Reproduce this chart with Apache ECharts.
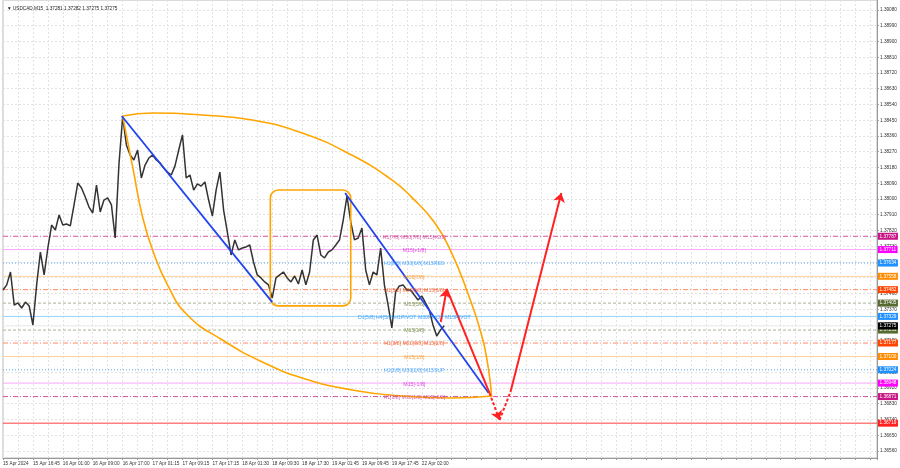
<!DOCTYPE html>
<html><head><meta charset="utf-8">
<script src="https://cdn.jsdelivr.net/npm/echarts@6/dist/echarts.min.js"></script>
<style>html,body{margin:0;padding:0;background:#fff}#c{width:900px;height:468px}</style>
</head><body><div id="c"></div>
<script>
// ---------- data ----------
const headerText = 'USDCAD,M15  1.37281 1.37282 1.37275 1.37275';
const xTickLabels = ['15 Apr 2024','15 Apr 16:45','16 Apr 01:00','16 Apr 09:00','16 Apr 17:00','17 Apr 01:15','17 Apr 09:15','17 Apr 17:15','18 Apr 01:30','18 Apr 09:30','18 Apr 17:30','19 Apr 01:45','19 Apr 09:45','19 Apr 17:45','22 Apr 02:00'];
const yTicks = [1.39080,1.38990,1.38900,1.38810,1.38720,1.38630,1.38540,1.38450,1.38360,1.38270,1.38180,1.38090,1.38000,1.37910,1.37820,1.37730,1.37640,1.37550,1.37460,1.37370,1.37280,1.37190,1.37100,1.37010,1.36920,1.36830,1.36740,1.36650,1.36560];
// close price sampled every 4th M15 bar
const barStep = 4;
const closePrices = [
1.37480,1.37509,1.37583,1.37394,1.37406,1.37377,1.37411,1.37389,1.37280,1.37509,
1.37697,1.37566,1.37720,1.37851,1.37823,1.37909,1.37851,1.37857,1.37846,1.37966,
1.38091,1.38063,1.38011,1.37954,1.37920,1.38080,1.37926,1.37994,1.38006,1.37966,
1.37777,1.38194,1.38470,1.38309,1.38251,1.38223,1.38280,1.38120,1.38194,1.38234,
1.38251,1.38223,1.38206,1.38177,1.38154,1.38137,1.38189,1.38280,1.38366,1.38120,
1.38137,1.38051,1.38086,1.38074,1.38097,1.37994,1.37903,1.38051,1.38154,1.37937,
1.37811,1.37680,1.37766,1.37709,1.37720,1.37726,1.37737,1.37640,1.37566,1.37549,
1.37526,1.37509,1.37434,1.37549,1.37566,1.37583,1.37549,1.37526,1.37560,1.37514,
1.37594,1.37509,1.37583,1.37766,1.37794,1.37680,1.37663,1.37697,1.37709,1.37737,
1.37766,1.37880,1.38017,1.37869,1.37766,1.37777,1.37834,1.37594,1.37509,1.37583,
1.37566,1.37720,1.37509,1.37394,1.37263,1.37469,1.37503,1.37509,1.37480,1.37480,
1.37451,1.37423,1.37446,1.37406,1.37366,1.37280,1.37217,1.37251,1.37275];

const levelPrices = [1.37787,1.37711,1.37634,1.37558,1.37482,1.37405,1.37329,1.37251,1.37177,1.37100,1.37024,1.36948,1.36871];
const levelNames = ['H1[7/8] M30[7/8] M15[+2/8]','M15[+1/8]','H1[6/8] M30[6/8] M15RES','M15[7/8]','H1[5/8] M30[5/8] M15[6/8]','M15[5/8]','D1[5/8] H4[5/8] H1PIVOT M30PIVOT M15PIVOT','M15[3/8]','H1[3/8] M30[3/8] M15[2/8]','M15[1/8]','H1[2/8] M30[2/8] M15SUP','M15[-1/8]','H1[1/8] M30[1/8] M15[-2/8]'];
const currentPrice = 1.37275;
const targetPrice = 1.36719;
const levelLabelBar = 440;
const axisBars = [0, 935];

// drawn objects (bar index, price)
const upperArcBars   = [128,160,213,267,320,373,416,437,462,480,496,512,519.5,522.7];
const upperArcPrices = [1.38474,1.38491,1.38480,1.38451,1.38377,1.38251,1.38109,1.38011,1.37863,1.37691,1.37480,1.37223,1.37023,1.36869];
const lowerArcBars   = [128,138.7,149.3,160,176,197.3,234.7,277.3,320,373.3,426.7,480,522.7];
const lowerArcPrices = [1.38474,1.38183,1.37897,1.37709,1.37509,1.37337,1.37194,1.37069,1.36977,1.36909,1.36874,1.36863,1.36874];
const boxBars = [286,372];
const boxPrices = [1.38051,1.37389];
const trendLines = [ [[127,1.38474],[288,1.37411]], [[366,1.38034],[519.5,1.36891]] ];
const arrowBars   = [468.3,474.7,520.5,531.2,542.9,597.3];
const arrowPrices = [1.37297,1.37486,1.36891,1.36737,1.36897,1.38034];

// ---------- styles ----------
const DD=[5,2,1,2], DOT=[1,2], DSH=[3,2];
const levelStyle = [
 {c:'#D255A0',t:'#D0409A',d:DD,box:'#C71585'},
 {c:'#F5A8F5',t:'#E020E0',d:'solid',box:'#FF00FF'},
 {c:'#5AA8F5',t:'#3A9BFF',d:DOT,box:'#1E90FF'},
 {c:'#FFD39A',t:'#F09020',d:'solid',box:'#FF8C00'},
 {c:'#FF8A66',t:'#F05020',d:DD,box:'#FF4500'},
 {c:'#A8B395',t:'#6B7F3A',d:DSH,box:'#556B2F'},
 {c:'#93D3FA',t:'#1E90FF',d:'solid',box:'#1E90FF'},
 {c:'#A8B395',t:'#6B7F3A',d:DSH,box:'#556B2F'},
 {c:'#FF8A66',t:'#F05020',d:DD,box:'#FF4500'},
 {c:'#FFD39A',t:'#F09020',d:'solid',box:'#FF8C00'},
 {c:'#5AA8F5',t:'#3A9BFF',d:DOT,box:'#1E90FF'},
 {c:'#F5A8F5',t:'#E020E0',d:'solid',box:'#FF00FF'},
 {c:'#D255A0',t:'#D0409A',d:DD,box:'#C71585'},
 {c:'#ededed',d:'solid',box:'#000000'},
 {c:'#FF4040',d:'solid',box:'#FF2020'}
];
const FF = 'Liberation Sans, Arial, sans-serif';
const FS = 4.7;

const priceData = closePrices.map((p,i)=>[i*barStep,p]);
const zip = (a,b)=>a.map((v,i)=>[v,b[i]]);

const allLinePrices = levelPrices.concat([currentPrice, targetPrice]);
const levelSeries = allLinePrices.map((p,i)=>({
  type:'line', silent:true, z:1, symbol:'none', showSymbol:false,
  data:axisBars.map(b=>[b,p]),
  lineStyle:{color:levelStyle[i].c, type:levelStyle[i].d, width:1},
  itemStyle:{color:levelStyle[i].c},
  endLabel:{show:true, distance:1, formatter:()=>p.toFixed(5),
    backgroundColor:levelStyle[i].box, color:'#fff', fontSize:FS, fontFamily:FF, padding:[1,1.5,1,1.5]}
}));

const seg = (i, dashed, arrow)=>{
  const ls = {color:'#FF2222', width:2, type:dashed?[3,2]:'solid'};
  return [
    {coord:[arrowBars[i],arrowPrices[i]], symbol:'none', lineStyle:ls},
    {coord:[arrowBars[i+1],arrowPrices[i+1]], symbol:arrow?'arrow':'none', symbolSize:arrow?9:0, lineStyle:ls}
  ];
};
const redSegs = [seg(0,false,true), seg(1,false,false), seg(2,true,true), seg(3,true,false), seg(4,false,true)];

const chart = echarts.init(document.getElementById('c'), null, {renderer:'canvas'});
chart.setOption({
  animation:false,
  backgroundColor:'#fff',
  title:{text:'▼ '+headerText, left:2, top:1, textStyle:{fontSize:FS, fontWeight:'normal', color:'#222', fontFamily:FF}},
  grid:{left:0, right:23, top:0, bottom:10, show:true, borderColor:'#b8b8b8', borderWidth:1},
  xAxis:{type:'value', min:0, max:935, interval:16,
    axisLine:{show:true, onZero:false, lineStyle:{color:'#999'}},
    axisTick:{show:true, length:2, lineStyle:{color:'#999'}},
    splitLine:{show:true, lineStyle:{color:'#e2e2e2', type:[2,2], width:1}},
    axisLabel:{fontSize:FS, fontFamily:FF, color:'#333', margin:3, align:'left',
      formatter:(v)=> (v%32===0 && xTickLabels[v/32]) ? xTickLabels[v/32] : ''}},
  yAxis:{type:'value', position:'right', min:1.36520, max:1.39137, scale:true,
    axisLine:{show:true, onZero:false, lineStyle:{color:'#999', width:1}},
    axisTick:{show:true, length:2, customValues:yTicks, lineStyle:{color:'#999'}},
    splitLine:{show:true, lineStyle:{color:'#e2e2e2', type:[2,2], width:1}},
    axisLabel:{fontSize:FS, fontFamily:FF, color:'#333', margin:3, customValues:yTicks,
      formatter:(v)=>v.toFixed(5)}},
  series:[
    ...levelSeries,
    {type:'line', data:priceData, showSymbol:false, lineStyle:{color:'#333', width:1.5}, z:3},
    {type:'line', data:zip(upperArcBars,upperArcPrices), smooth:0.5, showSymbol:false, lineStyle:{color:'#FFA500', width:1.6}, z:4},
    {type:'line', data:zip(lowerArcBars,lowerArcPrices), smooth:0.5, showSymbol:false, lineStyle:{color:'#FFA500', width:1.6}, z:4},
    {type:'custom', data:[[boxBars[0],boxPrices[0],boxBars[1],boxPrices[1]]], encode:{x:[0,2], y:[1,3]}, z:4,
      renderItem:(params, api)=>{
        const a = api.coord([api.value(0),api.value(1)]);
        const b = api.coord([api.value(2),api.value(3)]);
        return {type:'rect', shape:{x:Math.min(a[0],b[0]), y:Math.min(a[1],b[1]), width:Math.abs(b[0]-a[0]), height:Math.abs(b[1]-a[1]), r:8},
          style:{fill:'none', stroke:'#FFA500', lineWidth:1.6}};
      }},
    {type:'scatter', symbolSize:1, itemStyle:{color:'rgba(0,0,0,0)'}, z:6, silent:true,
      data:levelPrices.map((p,i)=>({value:[levelLabelBar,p], label:{color:levelStyle[i].t}})),
      label:{show:true, position:'inside', offset:[0,1], fontSize:5.2, fontFamily:FF, formatter:(p)=>levelNames[p.dataIndex]}},
    {type:'line', data:[], z:5,
      markLine:{silent:true, animation:false, precision:5, symbol:['none','none'],
        data:[
          ...trendLines.map(t=>[{coord:t[0], lineStyle:{color:'#2244EE', width:1.8, type:'solid'}},{coord:t[1], lineStyle:{color:'#2244EE', width:1.8, type:'solid'}}]),
          ...redSegs
        ], label:{show:false}}}
  ]
});
</script></body></html>
